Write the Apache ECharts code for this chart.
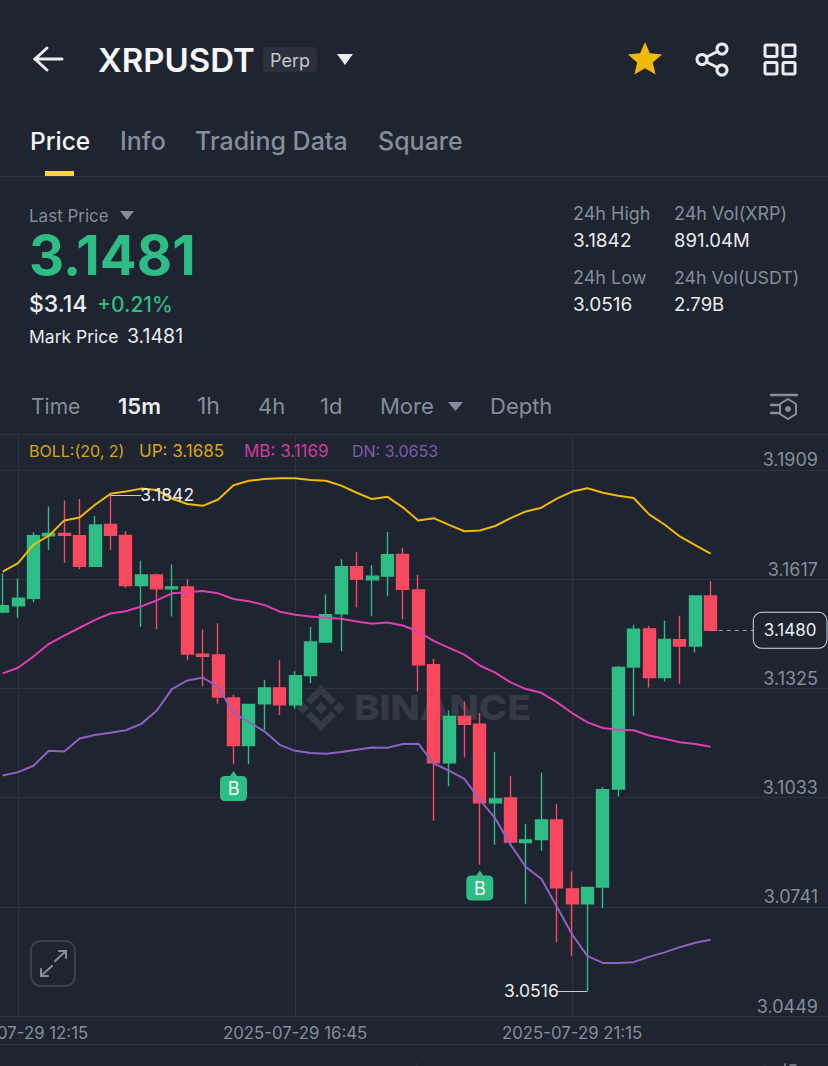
<!DOCTYPE html>
<html><head><meta charset="utf-8">
<style>html,body{margin:0;padding:0;background:#1e2430;overflow:hidden}#c{width:828px;height:1066px}</style>
<script src="https://cdn.jsdelivr.net/npm/echarts@6/dist/echarts.min.js"></script>
</head><body><div id="c"></div>
<script>
const times = ["11:45","12:00","12:15","12:30","12:45","13:00","13:15","13:30","13:45","14:00","14:15","14:30","14:45","15:00","15:15","15:30","15:45","16:00","16:15","16:30","16:45","17:00","17:15","17:30","17:45","18:00","18:15","18:30","18:45","19:00","19:15","19:30","19:45","20:00","20:15","20:30","20:45","21:00","21:15","21:30","21:45","22:00","22:15","22:30","22:45","23:00","23:15","23:30","23:45","00:00","00:15","00:30","00:45","01:00","01:15","01:30"];
const categories = times.map((t,i)=>(i<48?"2025-07-29 ":"2025-07-30 ")+t);
const labelledCategories = [2,20,38];
// [open, close, low, high]
const candles = [
[3.1529,3.1546,3.1526,3.1633],[3.1546,3.1566,3.1514,3.1619],[3.1566,3.1733,3.1555,3.1742],[3.1733,3.1739,3.1695,3.1811],
[3.1739,3.1734,3.1661,3.1827],[3.1733,3.1651,3.1644,3.1831],[3.1651,3.1762,3.1651,3.1786],[3.1763,3.1734,3.1695,3.1842],
[3.1734,3.1600,3.1593,3.1745],[3.1600,3.1628,3.1490,3.1666],[3.1628,3.1591,3.1483,3.1632],[3.1591,3.1596,3.1517,3.1656],
[3.1596,3.1417,3.1400,3.1617],[3.1416,3.1411,3.1330,3.1482],[3.1414,3.1302,3.1284,3.1499],[3.1299,3.1172,3.1122,3.1308],
[3.1172,3.1282,3.1122,3.1282],[3.1284,3.1326,3.1214,3.1348],[3.1326,3.1281,3.1253,3.1400],[3.1281,3.1359,3.1271,3.1371],
[3.1359,3.1449,3.1339,3.1490],[3.1449,3.1522,3.1449,3.1576],[3.1524,3.1650,3.1424,3.1670],[3.1650,3.1617,3.1542,3.1690],
[3.1615,3.1625,3.1518,3.1654],[3.1625,3.1682,3.1571,3.1743],[3.1683,3.1590,3.1510,3.1701],[3.1588,3.1388,3.1317,3.1629],
[3.1388,3.1126,3.0971,3.1404],[3.1126,3.1250,3.1063,3.1266],[3.1250,3.1229,3.1140,3.1290],[3.1229,3.1019,3.0854,3.1260],
[3.1019,3.1029,3.0907,3.1155],[3.1032,3.0914,3.0903,3.1091],[3.0913,3.0920,3.0749,3.0963],[3.0921,3.0973,3.0891,3.1100],
[3.0973,3.0792,3.0646,3.1016],[3.0789,3.0749,3.0609,3.0835],[3.0749,3.0793,3.0516,3.0793],[3.0794,3.1054,3.0738,3.1061],
[3.1056,3.1381,3.1036,3.1385],[3.1382,3.1483,3.1252,3.1495],[3.1484,3.1354,3.1327,3.1492],[3.1354,3.1456,3.1343,3.1506],
[3.1455,3.1438,3.1337,3.1519],[3.1438,3.1572,3.1421,3.1572],[3.1572,3.1480,3.1480,3.1611]];
const upperBand = [3.1637,3.1660,3.1709,3.1733,3.1774,3.1782,3.1816,3.1845,3.1851,3.1859,3.1855,3.1832,3.1818,3.1813,3.1830,3.1868,3.1880,3.1885,3.1887,3.1887,3.1882,3.1880,3.1867,3.1848,3.1831,3.1837,3.1809,3.1774,3.1780,3.1762,3.1745,3.1747,3.1759,3.1780,3.1798,3.1808,3.1832,3.1851,3.1860,3.1848,3.1840,3.1834,3.1790,3.1763,3.1731,3.1708,3.1685];
const middleBand = [3.1365,3.1380,3.1410,3.1444,3.1466,3.1487,3.1508,3.1525,3.1531,3.1544,3.1560,3.1579,3.1582,3.1585,3.1579,3.1564,3.1558,3.1548,3.1530,3.1522,3.1517,3.1514,3.1511,3.1504,3.1498,3.1501,3.1493,3.1477,3.1452,3.1433,3.1415,3.1386,3.1367,3.1341,3.1323,3.1313,3.1288,3.1259,3.1234,3.1219,3.1214,3.1213,3.1199,3.1190,3.1181,3.1176,3.1169];
const lowerBand = [3.1092,3.1101,3.1118,3.1158,3.1156,3.1191,3.1200,3.1206,3.1213,3.1230,3.1265,3.1323,3.1346,3.1354,3.1329,3.1259,3.1235,3.1210,3.1174,3.1158,3.1152,3.1150,3.1155,3.1161,3.1167,3.1166,3.1176,3.1177,3.1124,3.1105,3.1083,3.1027,3.0978,3.0907,3.0847,3.0816,3.0742,3.0667,3.0609,3.0591,3.0591,3.0593,3.0607,3.0619,3.0633,3.0645,3.0653];
const priceTicks = [3.0449,3.0741,3.1033,3.1325,3.1617,3.1909];
const highValue = 3.1842, lowValue = 3.0516, lastValue = 3.1480;
const buySignals = [[16,3.1064],[32,3.0798]];

const GREEN='#2ebd85',RED='#f84960',BG='#1e2430',LINE='#2c323e',MUTED='#848e9c',WHITE='#eaecef',YEL='#f0b90b';
const blank=['-','-','-','-'];
const T=(x,y,text,size,fill,weight,font)=>({type:'text',z:20,x,y,silent:true,style:{text,fontSize:size,fill,fontWeight:weight||400,fontFamily:font||'Inter',textVerticalAlign:'middle',textAlign:'left'}});
const P=(points,fill,z)=>({type:'polygon',z:z==null?20:z,silent:true,shape:{points},style:{fill}});
const L=(x1,y1,x2,y2,stroke,w,z)=>({type:'line',z:z==null?20:z,silent:true,shape:{x1,y1,x2,y2},style:{stroke,lineWidth:w||1,lineCap:'round'}});
const C=(cx,cy,r,stroke,w)=>({type:'circle',z:20,silent:true,shape:{cx,cy,r},style:{fill:'none',stroke,lineWidth:w}});
const R=(x,y,width,height,r,fill,stroke,w,z)=>({type:'rect',z:z==null?20:z,silent:true,shape:{x,y,width,height,r},style:{fill:fill||'none',stroke:stroke||'none',lineWidth:w||0}});
const star=(cx,cy,ro,ri)=>{const p=[];for(let i=0;i<10;i++){const r=i%2?ri:ro,a=-Math.PI/2+i*Math.PI/5;p.push([cx+r*Math.cos(a),cy+r*Math.sin(a)]);}return p;};

const gfx=[
 // header
 L(35,59,62,59,WHITE,3),L(35,59,47,48,WHITE,3),L(35,59,47,70,WHITE,3),
 T(98,60,'XRPUSDT',33,'#f5f6f7',600),
 R(263,47,54,25,4,'#2b303c'),T(270,60,'Perp',18,'#c4c8cf',400),
 P([[337,54],[353,54],[345,65]],WHITE),
 P(star(645,60,18,8.2),YEL),
 C(722,49,5,WHITE,3),C(702,59.5,5,WHITE,3),C(722,70,5,WHITE,3),L(706.5,57,717.5,51.5,WHITE,3),L(706.5,62,717.5,67.5,WHITE,3),
 R(765,45,12,11.5,1.5,null,WHITE,3),R(783,45,12,11.5,1.5,null,WHITE,3),R(765,62.5,12,11.5,1.5,null,WHITE,3),R(783,62.5,12,11.5,1.5,null,WHITE,3),
 // tabs
 T(30,141,'Price',24.5,'#f5f6f7',500),T(120,141,'Info',25,MUTED,500),T(195,141,'Trading Data',25,MUTED,500),T(378,141,'Square',25,MUTED,500),
 R(45,171,29,5,0,'#fcd535'),L(0,176.5,828,176.5,LINE,1),
 // price block
 T(29,216,'Last Price',17,MUTED),P([[120,211],[134,211],[127,220]],MUTED),
 T(29,255,'3.1481',54.5,GREEN,700),
 T(29,304,'$3.14',23,WHITE,500),T(97,304,'+0.21%',21,GREEN,500),
 T(29,336,'Mark Price',17.5,WHITE),T(127,336,'3.1481',19.5,WHITE),
 T(573,213,'24h High',18,MUTED),T(573,240,'3.1842',19,WHITE),T(674,213,'24h Vol(XRP)',18,MUTED),T(674,240,'891.04M',18.5,WHITE),
 T(573,277,'24h Low',18,MUTED),T(573,304,'3.0516',19,WHITE),T(674,277,'24h Vol(USDT)',17.8,MUTED),T(674,304,'2.79B',18.5,WHITE),
 // interval row
 T(31,406,'Time',21,MUTED),T(118,406,'15m',22,WHITE,600),T(197,406,'1h',23,MUTED),T(258,406,'4h',22,MUTED),T(320,406,'1d',22,MUTED),T(380,406,'More',22,MUTED),
 P([[448,402],[463,402],[455.5,411]],MUTED),T(490,406,'Depth',22,MUTED),
 L(771,395,797,395,MUTED,2.5),L(771,405,778,405,MUTED,2.5),L(771,413,778,413,MUTED,2.5),
 {type:'polygon',z:20,silent:true,shape:{points:[[788,399],[796,404],[796,414],[788,419],[780,414],[780,404]]},style:{fill:'none',stroke:MUTED,lineWidth:2}},
 {type:'circle',z:20,silent:true,shape:{cx:788,cy:409,r:3},style:{fill:MUTED}},
 L(0,434.5,828,434.5,LINE,1),
 // indicator legend
 T(29,451,'BOLL:(20, 2)',16,'#dba614'),T(139,451,'UP: 3.1685',17,'#dba614'),T(244,451,'MB: 3.1169',17,'#d03ca2'),T(352,451,'DN: 3.0653',16,'#7e5cab'),
 // expand button
 R(31,941,44,45,10,null,'#3a404c',2),
 L(66,951,55,961,MUTED,2),L(66,951,59,951,MUTED,2),L(66,951,66,958,MUTED,2),
 L(41,976,52,966,MUTED,2),L(41,976,48,976,MUTED,2),L(41,976,41,969,MUTED,2),
 // lower edge
 L(0,1044.5,828,1044.5,LINE,1),L(417,1063,417,1066,LINE,1.5),L(765,1063,765,1066,LINE,1.5),L(785,1064,785,1066,MUTED,1.5),L(790,1065,796,1065,MUTED,1.5),
 // watermark
 {type:'text',z:0,x:354,y:708,scaleX:1.13,silent:true,style:{text:'BINANCE',fontSize:34,fontWeight:800,fontFamily:'Inter',fill:'#353a46',textVerticalAlign:'middle'}},
 P([[321,702],[327,708],[321,714],[315,708]],'#353a46',0),
 P([[303,702],[309,708],[303,714],[297,708]],'#353a46',0),
 P([[339,702],[345,708],[339,714],[333,708]],'#353a46',0),
 P([[321,685],[336,700],[331,704.5],[321,694.5],[311,704.5],[306,700]],'#353a46',0),
 P([[321,731],[336,716],[331,711.5],[321,721.5],[311,711.5],[306,716]],'#353a46',0)
];

const chart=echarts.init(document.getElementById('c'),null,{renderer:'svg',width:828,height:1066});
const BADGE='path://M13.5 0 L17 5 L22 5 Q27 5 27 10 L27 25 Q27 30 22 30 L5 30 Q0 30 0 25 L0 10 Q0 5 5 5 L10 5 Z';
chart.setOption({
 backgroundColor:BG,animation:false,
 textStyle:{fontFamily:'Inter'},
 grid:{left:-12.69,top:434,width:846.45,height:582,outerBoundsMode:'none',containLabel:false},
 xAxis:{type:'category',data:categories,boundaryGap:false,
  axisLine:{show:true,lineStyle:{color:LINE,width:1}},axisTick:{show:false},
  splitLine:{show:true,interval:(i)=>labelledCategories.includes(i),lineStyle:{color:LINE,width:1}},
  axisLabel:{interval:(i)=>labelledCategories.includes(i),color:MUTED,fontSize:16.8,margin:8,fontFamily:'Inter'}},
 yAxis:{type:'value',position:'right',min:3.0449,max:3.2005,scale:true,
  axisLine:{show:false},
  axisTick:{show:false,customValues:priceTicks},
  splitLine:{show:true,lineStyle:{color:LINE,width:1}},
  axisLabel:{inside:true,customValues:priceTicks,align:'right',verticalAlign:'bottom',margin:15.76,lineHeight:20,color:MUTED,fontSize:18,fontFamily:'Inter',formatter:v=>v.toFixed(4)}},
 series:[
  {type:'line',name:'UP',data:['-'].concat(upperBand),showSymbol:false,symbol:'none',lineStyle:{color:YEL,width:2},z:4},
  {type:'line',name:'MB',data:['-'].concat(middleBand),showSymbol:false,symbol:'none',lineStyle:{color:'#e03fb0',width:2},z:4},
  {type:'line',name:'DN',data:['-'].concat(lowerBand),showSymbol:false,symbol:'none',lineStyle:{color:'#8d62c4',width:2},z:4},
  {type:'candlestick',name:'XRPUSDT',data:[blank].concat(candles),barWidth:12.5,z:3,
   itemStyle:{color:GREEN,color0:RED,borderColor:GREEN,borderColor0:RED,borderWidth:1.4},
   markLine:{silent:true,symbol:'none',animation:false,data:[
    [{coord:[categories[8],highValue],lineStyle:{color:'#c8ccd2',width:1,type:'solid'},label:{show:true,position:'end',distance:-1,formatter:()=>highValue.toFixed(4),color:WHITE,fontSize:17.5,fontFamily:'Inter'}},{coord:[categories[10],highValue]}],
    [{coord:[categories[39],lowValue],lineStyle:{color:'#c8ccd2',width:1,type:'solid'},label:{show:true,position:'end',distance:-2,formatter:()=>lowValue.toFixed(4),color:WHITE,fontSize:17.5,fontFamily:'Inter'}},{coord:[categories[37],lowValue]}],
    [{coord:[categories[47],lastValue],lineStyle:{color:'#9aa0aa',width:1,type:[4,4]},label:{show:true,position:'end',distance:-3,formatter:()=>lastValue.toFixed(4),color:WHITE,fontSize:17,fontFamily:'Inter',backgroundColor:BG,borderColor:'#d8dadf',borderWidth:1,borderRadius:8,padding:[9,10]}},{coord:[categories[50],lastValue]}]
   ]},
   markPoint:{silent:true,animation:false,symbol:BADGE,symbolSize:[27,30],itemStyle:{color:GREEN},
    label:{show:true,formatter:'B',color:'#f5f6f7',fontSize:18,offset:[0,3],fontFamily:'Inter'},
    data:buySignals.map(b=>({coord:[categories[b[0]],b[1]]}))}
  }
 ],
 graphic:gfx
});
</script></body></html>
